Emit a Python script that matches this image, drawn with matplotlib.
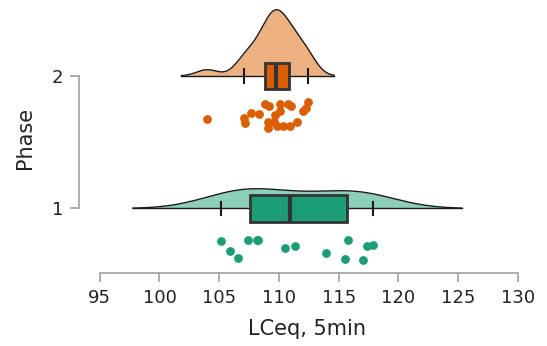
import numpy as np
import matplotlib
matplotlib.use("Agg")
import matplotlib.pyplot as plt
from matplotlib.patches import Rectangle

# data
phases = [1, 2]
phase_labels = ["1", "2"]
lceq_phase1 = [105.17, 105.92, 106.61, 107.38, 108.21, 108.15, 110.5, 111.38,
               113.9, 115.8, 115.5, 117.0, 117.4, 117.9]
jitter_phase1 = [-0.245, -0.321, -0.374, -0.238, -0.238, -0.238, -0.298, -0.283,
                 -0.336, -0.238, -0.381, -0.389, -0.283, -0.275]
lceq_phase2 = [104.0, 107.05, 107.15, 107.7, 108.35, 108.8, 109.08, 109.1, 109.2,
               109.55, 109.7, 109.85, 110.05, 110.1, 110.3, 110.75, 110.9, 111.0,
               111.5, 112.05, 112.3, 112.47]
jitter_phase2 = [-0.325, -0.317, -0.355, -0.277, -0.29, -0.214, -0.39, -0.35, -0.226,
                 -0.35, -0.294, -0.375, -0.214, -0.265, -0.375, -0.214, -0.375, -0.23,
                 -0.35, -0.265, -0.24, -0.20]

dark_colors = ["#1b9e77", "#d95f02"]
light_colors = ["#8dcfbb", "#edb081"]
xticks = [95, 100, 105, 110, 115, 120, 125, 130]


def kde(vals):
    v = np.asarray(vals)
    iqr = np.subtract(*np.percentile(v, [75, 25]))
    bw = 1.25 * 0.9 * min(v.std(ddof=1), iqr / 1.34) * len(v) ** -0.2
    grid = np.linspace(v.min() - 2.4 * bw, v.max() + 2.4 * bw, 400)
    dens = np.exp(-0.5 * ((grid[:, None] - v[None, :]) / bw) ** 2).sum(1)
    dens = dens / (len(v) * bw * np.sqrt(2 * np.pi))
    return grid, dens


fig = plt.figure(figsize=(5.47, 3.46), dpi=100)
ax = fig.add_axes([0.1444, 0.211, 0.835, 0.78])

groups = [(lceq_phase1, jitter_phase1), (lceq_phase2, jitter_phase2)]
kdes = [kde(g[0]) for g in groups]
scale = 0.5 / max(d.max() for _, d in kdes)

for i, (vals, jit) in enumerate(groups):
    p = phases[i]
    v = np.asarray(vals)
    grid, dens = kdes[i]
    # cloud
    ax.fill_between(grid, p, p + dens * scale, color=light_colors[i], lw=0, zorder=1)
    ax.plot(grid, p + dens * scale, color="#1a1a1a", lw=1, zorder=2)
    ax.plot([grid[0], grid[-1]], [p, p], color="#1a1a1a", lw=1, zorder=2)
    # box
    q1, med, q3 = np.percentile(v, [25, 50, 75])
    iqr = q3 - q1
    lo = v[v >= q1 - 1.5 * iqr].min()
    hi = v[v <= q3 + 1.5 * iqr].max()
    for w in (lo, hi):
        ax.plot([w, w], [p - 0.05, p + 0.05], color="#1a1a1a", lw=1.5, zorder=2)
    ax.add_patch(Rectangle((q1, p - 0.1), q3 - q1, 0.2, fc=dark_colors[i],
                           ec="#333333", lw=2, zorder=3))
    ax.plot([med, med], [p - 0.1, p + 0.1], color="#333333", lw=3, zorder=4,
            solid_capstyle="butt")
    # rain
    ax.scatter(v, p + np.asarray(jit), s=40, color=dark_colors[i], lw=0, zorder=5)

ax.set_xlim(93.26, 131.5)
ax.set_ylim(0.513, 2.55)
ax.set_xticks(xticks)
ax.set_yticks(phases)
ax.set_yticklabels(phase_labels)
for s in ["top", "right"]:
    ax.spines[s].set_visible(False)
ax.spines["left"].set_bounds(1, 2)
ax.spines["bottom"].set_bounds(95, 130)
for s in ["left", "bottom"]:
    ax.spines[s].set_color("#a0a0a0")
    ax.spines[s].set_linewidth(1.2)
ax.tick_params(colors="#a0a0a0", labelcolor="#222222", length=6.5, width=1.2,
               labelsize=13, pad=5)
ax.set_xlabel("LCeq, 5min", fontsize=15, color="#222222", labelpad=9)
ax.set_ylabel("Phase", fontsize=15, color="#222222", labelpad=12)

fig.savefig("out.png", dpi=100)
